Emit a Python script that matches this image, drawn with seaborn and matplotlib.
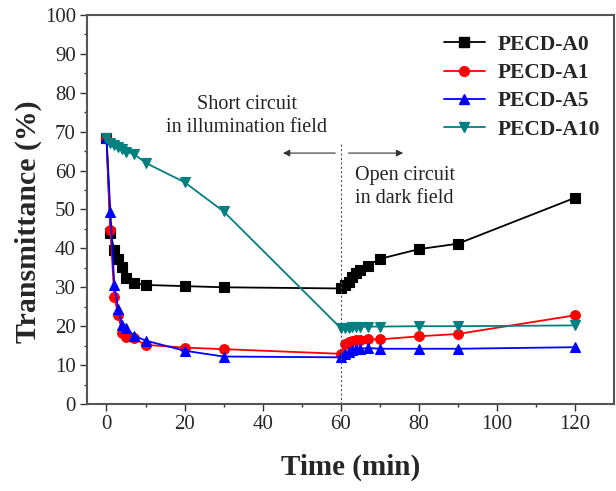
import numpy as np
import pandas as pd
import matplotlib
matplotlib.use("Agg")
import matplotlib.pyplot as plt
import seaborn as sns

# Sampling times (min): short circuit under illumination up to 60, then open circuit in the dark
time_min = [0, 1, 2, 3, 4, 5, 7, 10, 20, 30, 60, 61, 62, 63, 64, 65, 67, 70, 80, 90, 120]

pecd_a0 = [68.3, 43.9, 39.6, 37.2, 35.3, 32.5, 31.0, 30.6, 30.3, 30.0, 29.7,
           30.6, 31.4, 32.6, 33.8, 34.4, 35.6, 37.3, 39.8, 41.2, 53.0]
pecd_a1 = [68.3, 44.7, 27.5, 23.0, 18.3, 17.3, 16.9, 15.2, 14.5, 14.1, 12.9,
           15.3, 16.0, 16.3, 16.5, 16.5, 16.6, 16.6, 17.4, 18.0, 22.8]
pecd_a5 = [68.3, 49.4, 30.6, 24.5, 20.2, 19.5, 17.6, 16.3, 13.7, 12.2, 12.0,
           12.8, 13.4, 13.8, 14.1, 14.2, 14.4, 14.2, 14.2, 14.2, 14.6]
pecd_a10 = [68.3, 67.2, 66.5, 66.0, 65.6, 64.8, 64.3, 62.0, 57.0, 49.5, 19.5,
            19.5, 19.6, 19.7, 19.8, 19.8, 19.9, 19.9, 20.0, 20.0, 20.2]

series_names = ["PECD-A0", "PECD-A1", "PECD-A5", "PECD-A10"]
series_values = [pecd_a0, pecd_a1, pecd_a5, pecd_a10]
series_colors = ["#000000", "#ff0000", "#0000ff", "#008080"]
series_markers = ["s", "o", "^", "v"]

x_ticks = [0, 20, 40, 60, 80, 100, 120]
y_ticks = [0, 10, 20, 30, 40, 50, 60, 70, 80, 90, 100]

df = pd.DataFrame({
    "Time": np.tile(time_min, len(series_names)),
    "Transmittance": np.concatenate(series_values),
    "Sample": np.repeat(series_names, len(time_min)),
})

sns.set_theme(style="ticks")
plt.rcParams["font.family"] = ["Liberation Serif", "DejaVu Serif"]

fig = plt.figure(figsize=(6.16, 4.91), dpi=100)
ax = fig.add_axes([0.1412, 0.1772, 0.8556, 0.7923])

sns.lineplot(
    data=df, x="Time", y="Transmittance", hue="Sample", style="Sample",
    hue_order=series_names, style_order=series_names,
    palette=dict(zip(series_names, series_colors)),
    markers=dict(zip(series_names, series_markers)),
    dashes=False, markersize=7, linewidth=1.3,
    ax=ax, legend=False, sort=False,
)
# solid markers, edge in the series colour
for line in ax.lines:
    line.set_markeredgecolor(line.get_color())
    line.set_markeredgewidth(0.8)

ax.set_xlim(-5, 130)
ax.set_ylim(0, 100)
ax.set_xticks(x_ticks)
ax.set_yticks(y_ticks)
ax.set_xticks(np.arange(10, 130, 20), minor=True)
ax.set_yticks(np.arange(5, 100, 10), minor=True)
ax.tick_params(axis="both", which="major", direction="out", length=5, width=1.0,
               labelsize=15, color="#333333", pad=3)
ax.tick_params(axis="both", which="minor", direction="out", length=2.5, width=1.0,
               color="#333333")
for s in ax.spines.values():
    s.set_color("#555555")
    s.set_linewidth(1.5)

ax.set_xlabel("Time (min)", fontsize=21, fontweight="bold", labelpad=14)
ax.set_ylabel("Transmittance (%)", fontsize=21.5, fontweight="bold")
ax.yaxis.set_label_coords(-0.085, 0.468)

# Boundary between illumination and dark phases
ax.axvline(60, ymin=0, ymax=0.67, color="#555555", linestyle=(0, (2, 2)), linewidth=0.8)
ax.annotate("", xy=(45.2, 64.5), xytext=(58.6, 64.5),
            arrowprops=dict(arrowstyle="-|>", color="#333333", lw=0.8,
                            mutation_scale=10, shrinkA=0, shrinkB=0))
ax.annotate("", xy=(76.0, 64.5), xytext=(62.0, 64.5),
            arrowprops=dict(arrowstyle="-|>", color="#333333", lw=0.8,
                            mutation_scale=10, shrinkA=0, shrinkB=0))
ax.text(35.9, 74.0, "Short circuit\nin illumination field", ha="center", va="center",
        fontsize=14.5, linespacing=1.3, color="#222222")
ax.text(63.6, 55.8, "Open circuit\nin dark field", ha="left", va="center",
        fontsize=14.5, linespacing=1.3, color="#222222")

handles = [
    plt.Line2D([], [], color=c, marker=m, markersize=7, linewidth=1.3)
    for c, m in zip(series_colors, series_markers)
]
ax.legend(handles, series_names, loc="upper right", frameon=False,
          prop={"weight": "bold", "size": 15.5}, handlelength=1.9,
          labelspacing=0.38, borderaxespad=0.25, handletextpad=0.6,
          bbox_to_anchor=(1.0, 0.985))

fig.savefig("out.png", dpi=100)
